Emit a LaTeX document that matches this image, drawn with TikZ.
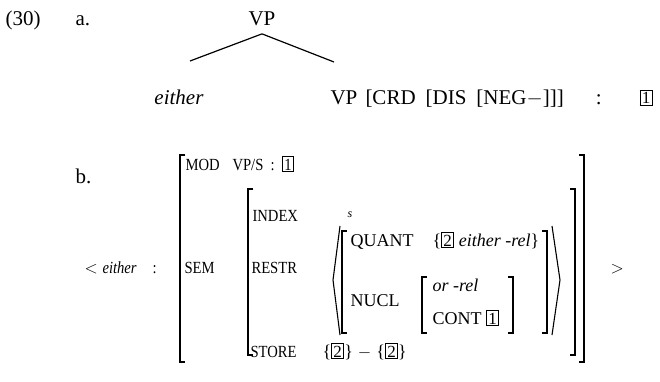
\documentclass[tikz,border=0pt]{standalone}
\usepackage{fontspec}
\setmainfont{Liberation Serif}
\newfontfamily\labfont[FakeStretch=0.86]{Liberation Serif}
\newcommand{\bnum}[1]{{\fontsize{17}{19}\selectfont\setlength{\fboxsep}{1.4pt}\setlength{\fboxrule}{0.9pt}\fbox{#1}}}

\begin{document}
\begin{tikzpicture}[x=1pt,y=-1pt,line width=1.1pt,
  big/.style={inner sep=0pt,anchor=base west,font=\fontsize{21}{24}\selectfont},
  lab/.style={inner sep=0pt,anchor=base west,font=\labfont\fontsize{17}{19}\selectfont},
  avm/.style={inner sep=0pt,anchor=base west,font=\fontsize{18}{20}\selectfont}]
\useasboundingbox (0,0) rectangle (660,382);

% (30a) the tree
\node[big] (num) at (5,26) {(30)};
\node[big] (parta) at (75,26) {a.};
\node[big,anchor=base,inner ysep=7pt] (vp) at (262,26) {VP};
\node[big,anchor=base] (either) at (179,105) {\textit{either}};
\node[big] (vpr) at (330,105) {VP};
\node[big] (feat) at (vpr.base east) {\hspace{7pt}[CRD\hspace{10pt}[DIS\hspace{10pt}[NEG$-$]]]\hspace{32pt}:};
\node[big] (tagone) at (639,104) {\bnum{1}};
\coordinate (lend) at (190,61);
\coordinate (rend) at (334,62);
\draw[line width=1.2pt] (vp.south) -- (lend);
\draw[line width=1.2pt] (vp.south) -- (rend);

% (30b) the AVM
\node[big] (partb) at (75,183) {b.};
\node[lab] (lt) at (84,273) {$<$};
\node[lab] (word) at (102,273) {\textit{either}};
\node[lab] (colon) at (152,273) {:};

% outer box
\draw (185,155) -- (180,155) -- (180,362) -- (185,362);
\draw (579,155) -- (584,155) -- (584,362) -- (579,362);
\node[lab] (mod) at (185,170) {MOD};
\node[lab] (modval) at (232,170) {VP/S\ \ :\ \ \bnum{1}};
\node[lab] (sem) at (184,273) {SEM};

% SEM value
\draw (253,189) -- (248,189) -- (248,355) -- (253,355);
\draw (570,189) -- (575,189) -- (575,355) -- (570,355);
\node[lab] (index) at (252,221) {INDEX};
\node[lab,font=\fontsize{12}{14}\selectfont] (ess) at (347,217) {\textit{s}};
\node[lab] (restr) at (251,273) {RESTR};
\node[lab] (store) at (250,357) {STORE};
\node[avm] (storeval) at (322,357) {\{\bnum{2}\}\;$-$\;\{\bnum{2}\}};

% RESTR value
\draw (340,226) -- (333,280) -- (340,335);
\draw (552,226) -- (560,280) -- (552,335);
\draw (347,231) -- (342,231) -- (342,333) -- (347,333);
\draw (542,231) -- (547,231) -- (547,333) -- (542,333);
\node[avm] (quant) at (350,246) {QUANT};
\node[avm] (quantval) at (432,246) {\{\bnum{2} \textit{either -rel}\}};
\node[avm] (nucl) at (350,306) {NUCL};
\draw (427,277) -- (422,277) -- (422,333) -- (427,333);
\draw (508,277) -- (513,277) -- (513,333) -- (508,333);
\node[avm] (rel) at (432,291) {\textit{or -rel}};
\node[avm] (cont) at (432,324) {CONT \bnum{1}};

\node[lab] (gt) at (610,273) {$>$};
\end{tikzpicture}
\end{document}
